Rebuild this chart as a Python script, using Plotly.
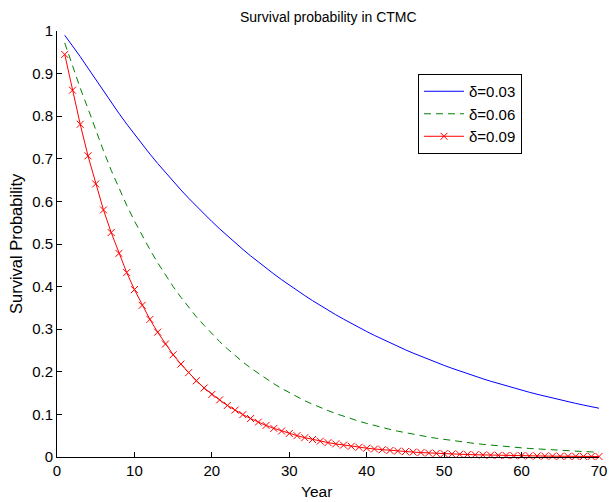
import plotly.graph_objects as go

years = list(range(1, 71))

surv_003 = [0.990, 0.9656, 0.9399, 0.9130, 0.8860, 0.8590, 0.8324, 0.8066, 0.7816, 0.7574,
            0.7339, 0.7111, 0.6891, 0.6677, 0.6470, 0.6270, 0.6075, 0.5887, 0.5705, 0.5528,
            0.5357, 0.5191, 0.5030, 0.4874, 0.4723, 0.4577, 0.4435, 0.4297, 0.4164, 0.4035,
            0.3910, 0.3789, 0.3671, 0.3557, 0.3447, 0.3340, 0.3237, 0.3136, 0.3039, 0.2945,
            0.2854, 0.2765, 0.2680, 0.2597, 0.2516, 0.2438, 0.2363, 0.2289, 0.2218, 0.2150,
            0.2083, 0.2018, 0.1956, 0.1895, 0.1836, 0.1779, 0.1724, 0.1671, 0.1619, 0.1569,
            0.1520, 0.1473, 0.1427, 0.1383, 0.1340, 0.1299, 0.1258, 0.1219, 0.1182, 0.1145]

surv_006 = [0.972, 0.917, 0.866, 0.818, 0.767, 0.719, 0.673, 0.631, 0.591, 0.554,
            0.519, 0.487, 0.456, 0.427, 0.400, 0.375, 0.352, 0.329, 0.309, 0.289,
            0.271, 0.254, 0.238, 0.223, 0.209, 0.196, 0.183, 0.172, 0.161, 0.151,
            0.141, 0.132, 0.124, 0.116, 0.109, 0.102, 0.0957, 0.0897, 0.0840, 0.0788,
            0.0738, 0.0692, 0.0648, 0.0607, 0.0569, 0.0533, 0.0500, 0.0468, 0.0439, 0.0411,
            0.0385, 0.0361, 0.0338, 0.0317, 0.0297, 0.0278, 0.0261, 0.0244, 0.0229, 0.0215,
            0.0201, 0.0188, 0.0177, 0.0165, 0.0155, 0.0145, 0.0136, 0.0128, 0.0120, 0.0112]

surv_009 = [0.945, 0.861, 0.781, 0.707, 0.641, 0.580, 0.527, 0.478, 0.433, 0.393,
            0.356, 0.323, 0.293, 0.265, 0.240, 0.218, 0.198, 0.179, 0.162, 0.147,
            0.134, 0.121, 0.110, 0.0995, 0.0902, 0.0818, 0.0741, 0.0672, 0.0609, 0.0552,
            0.0501, 0.0454, 0.0411, 0.0373, 0.0338, 0.0307, 0.0278, 0.0252, 0.0228, 0.0207,
            0.0188, 0.0170, 0.0154, 0.0140, 0.0127, 0.0115, 0.0104, 0.0094, 0.0086, 0.0078,
            0.0070, 0.0064, 0.0058, 0.0052, 0.0047, 0.0043, 0.0039, 0.0035, 0.0032, 0.0029,
            0.0026, 0.0024, 0.0022, 0.0020, 0.0018, 0.0016, 0.0015, 0.0013, 0.0012, 0.0011]

labels = ["δ=0.03", "δ=0.06", "δ=0.09"]
x_ticks = [0, 10, 20, 30, 40, 50, 60, 70]
y_ticks = [0, 0.1, 0.2, 0.3, 0.4, 0.5, 0.6, 0.7, 0.8, 0.9, 1]
y_ticktext = ["0", "0.1", "0.2", "0.3", "0.4", "0.5", "0.6", "0.7", "0.8", "0.9", "1"]

FONT = "Liberation Sans, Arial, Helvetica, sans-serif"

fig = go.Figure()
fig.add_trace(go.Scatter(x=years, y=surv_003, mode="lines", name=labels[0],
                         line=dict(color="#0000ff", width=1)))
fig.add_trace(go.Scatter(x=years, y=surv_006, mode="lines", name=labels[1],
                         line=dict(color="#008000", width=1, dash="7px,5px")))
fig.add_trace(go.Scatter(x=years, y=surv_009, mode="lines+markers", name=labels[2],
                         line=dict(color="#ff0000", width=1),
                         marker=dict(symbol="x-thin", size=7, color="#ff0000",
                                     line=dict(color="#ff0000", width=1)),
                         cliponaxis=False))

fig.update_layout(
    width=613, height=502,
    autosize=False,
    margin=dict(l=57, r=14, t=31, b=45, pad=0, autoexpand=False),
    paper_bgcolor="white", plot_bgcolor="white",
    font=dict(family=FONT, size=15, color="black"),
    showlegend=True,
    legend=dict(x=0.666, y=0.899, xanchor="left", yanchor="top",
                bordercolor="black", borderwidth=1, bgcolor="white",
                font=dict(size=15, family=FONT), tracegroupgap=0,
                itemwidth=40),
    xaxis=dict(range=[0, 70], tickvals=x_ticks, ticks="inside", ticklen=5,
               tickcolor="black", showline=True, linecolor="black", linewidth=1,
               showgrid=False, zeroline=False, mirror=False, automargin=False,
               tickfont=dict(size=15, family=FONT)),
    yaxis=dict(range=[0, 1], tickvals=y_ticks, ticktext=y_ticktext, ticks="inside",
               ticklen=5, tickcolor="black", showline=True, linecolor="black",
               linewidth=1, showgrid=False, zeroline=False, mirror=False,
               automargin=False, tickfont=dict(size=15, family=FONT)),
    annotations=[
        dict(text="Survival probability in CTMC", x=0.5, y=1, xref="paper", yref="paper",
             xanchor="center", yanchor="bottom", yshift=4, showarrow=False,
             font=dict(size=14, family=FONT)),
        dict(text="Year", x=0.478, y=0, xref="paper", yref="paper",
             xanchor="center", yanchor="top", yshift=-24, showarrow=False,
             font=dict(size=15.5, family=FONT)),
        dict(text="Survival Probability", x=0, y=0.5, xref="paper", yref="paper",
             xanchor="right", yanchor="middle", xshift=-30, showarrow=False,
             textangle=-90, font=dict(size=16.5, family=FONT)),
    ],
)

fig.write_html("out.html")
